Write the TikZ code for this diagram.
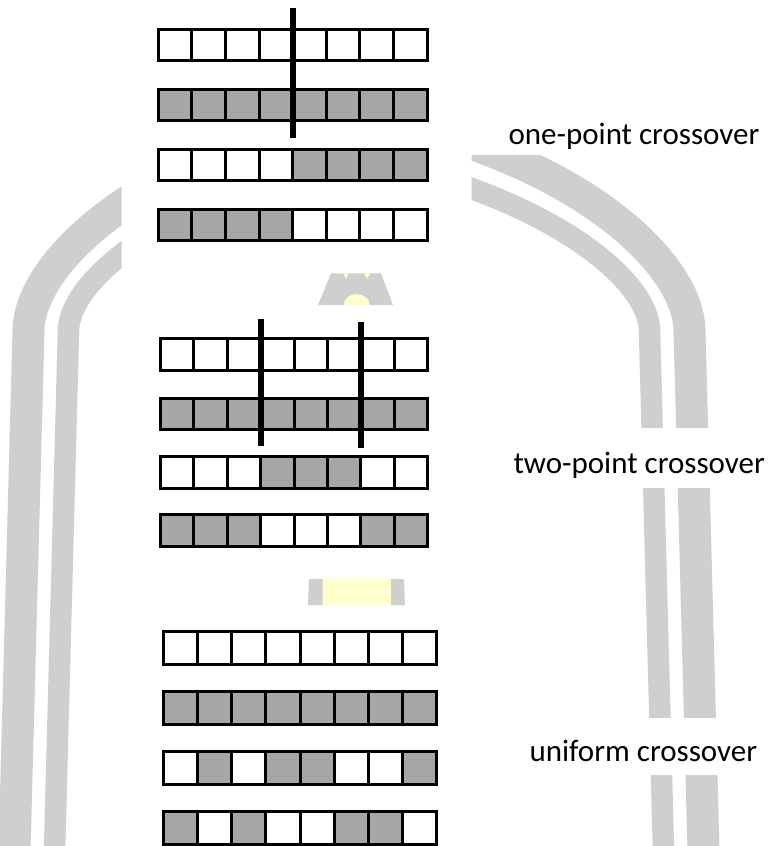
\documentclass[tikz,border=0pt]{standalone}
\usepackage{fontspec}
\setmainfont{Carlito}
\definecolor{bandgray}{RGB}{207,207,207}
\definecolor{gc}{RGB}{166,166,166}
\colorlet{wc}{white}
\definecolor{paleyellow}{RGB}{255,255,204}
\tikzset{
  cell/.style={draw=black, line width=3pt, inner sep=0pt, outer sep=0pt, anchor=north west},
  cutline/.style={line width=6pt, draw=black},
  outerband/.style={draw=bandgray, line width=32pt},
  innerband/.style={draw=bandgray, line width=21.5pt},
  lbl/.style={font=\fontsize{31}{37}\selectfont, inner sep=0pt, anchor=base west, text=black},
}
\newcommand{\chromrow}[6]{%
  \foreach \c [count=\i from 0] in {#6} {
    \node[cell, fill=\c, minimum width=#4pt, minimum height=#5pt] (#1-\i) at ({#2+\i*#4},#3) {};
  }}
\begin{document}
\begin{tikzpicture}[x=1pt,y=-1pt]
\useasboundingbox (0,0) rectangle (771,846);
\fill[white] (0,0) rectangle (771,846);
% background arch bands
\begin{scope}
  \clip (0,0) rectangle (121.7,846) (471.7,0) rectangle (771,846);
  \draw[outerband] (430,131) .. controls (590,175) and (688,265) .. (689.5,330) -- (704,870);
  \draw[innerband] (430,175) .. controls (564,214) and (648,282) .. (649.5,330) -- (664,870);
  \draw[outerband] (288,131) .. controls (128,175) and (30,265) .. (28.5,330) -- (14,870);
  \draw[innerband] (288,175) .. controls (154,214) and (70,282) .. (68.5,330) -- (54,870);
\end{scope}
% white boxes behind the labels
\fill[white] (460,60) rectangle (771,155);
\fill[white] (460,428.3) rectangle (771,488.3);
\fill[white] (460,717.7) rectangle (771,775);
% small fragments in the middle
\fill[bandgray] (331,273.3) -- (381,273.3) -- (393,305) -- (318,305) -- cycle;
\fill[paleyellow] (343,273.3) -- (349,273.3) -- (346,279) -- cycle;
\fill[paleyellow] (364,273.3) -- (370,273.3) -- (367,279) -- cycle;
\fill[paleyellow] (343.7,305) arc[start angle=180, end angle=360, x radius=13, y radius=11] -- cycle;
\fill[bandgray] (309,579) -- (322.7,579) -- (322.7,605) -- (308,605) -- cycle;
\fill[paleyellow] (322.7,579) rectangle (391,605);
\fill[bandgray] (391,579) -- (404,579) -- (405,605) -- (391,605) -- cycle;
% one-point crossover
\chromrow{a1}{158.2}{29.2}{33.6}{31}{wc,wc,wc,wc,wc,wc,wc,wc}
\chromrow{a2}{158.2}{89.2}{33.6}{31}{gc,gc,gc,gc,gc,gc,gc,gc}
\chromrow{a3}{158.2}{149.2}{33.6}{31}{wc,wc,wc,wc,gc,gc,gc,gc}
\chromrow{a4}{158.2}{209.2}{33.6}{31}{gc,gc,gc,gc,wc,wc,wc,wc}
\coordinate (k1a) at (292.6,8);
\coordinate (k1b) at (292.6,137.7);
\draw[cutline] (k1a) -- (k1b);
% two-point crossover
\chromrow{b1}{160.2}{338.8}{33.45}{31.5}{wc,wc,wc,wc,wc,wc,wc,wc}
\chromrow{b2}{160.2}{398.2}{33.45}{31.5}{gc,gc,gc,gc,gc,gc,gc,gc}
\chromrow{b3}{160.2}{456.5}{33.45}{31.5}{wc,wc,wc,gc,gc,gc,wc,wc}
\chromrow{b4}{160.2}{514.8}{33.45}{31.5}{gc,gc,gc,wc,wc,wc,gc,gc}
\coordinate (k2a) at (260.5,319.3);
\coordinate (k2b) at (260.5,446);
\coordinate (k3a) at (361,321.7);
\coordinate (k3b) at (361,448.3);
\draw[cutline] (k2a) -- (k2b);
\draw[cutline] (k3a) -- (k3b);
% uniform crossover
\chromrow{c1}{163.5}{631.5}{34.16}{33}{wc,wc,wc,wc,wc,wc,wc,wc}
\chromrow{c2}{163.5}{691.5}{34.16}{33}{gc,gc,gc,gc,gc,gc,gc,gc}
\chromrow{c3}{163.5}{751.5}{34.16}{33}{wc,gc,wc,gc,gc,wc,wc,gc}
\chromrow{c4}{163.5}{811.5}{34.16}{33}{gc,wc,gc,wc,wc,gc,gc,wc}
% labels
\node[lbl] (t1) at (508.3,144) {one-point crossover};
\node[lbl] (t2) at (513.3,473.3) {two-point crossover};
\node[lbl] (t3) at (529.3,761.7) {uniform crossover};
\end{tikzpicture}
\end{document}
